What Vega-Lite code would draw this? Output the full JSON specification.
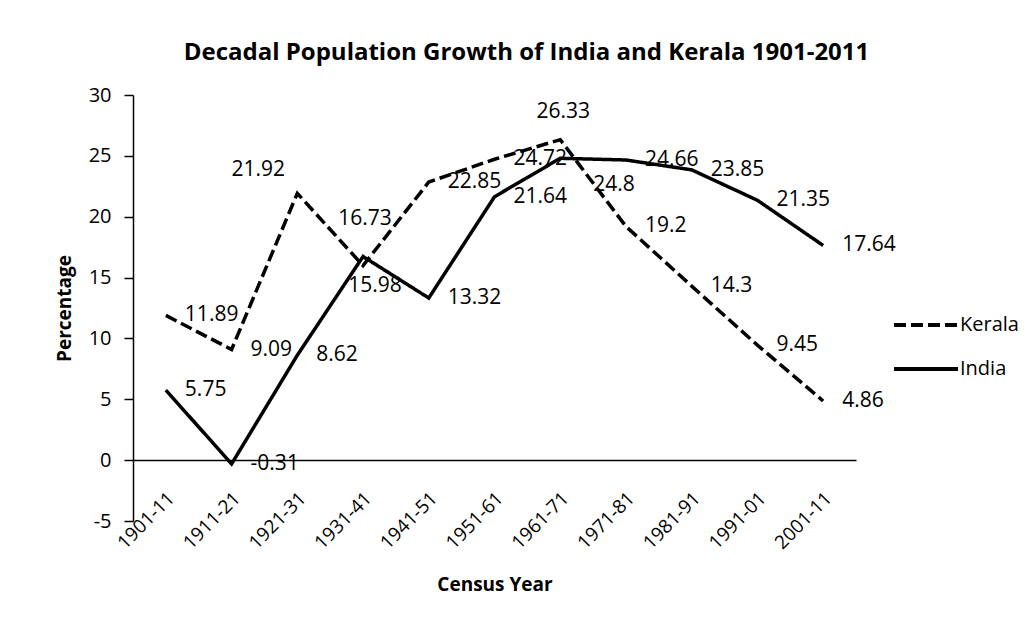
{
  "$schema": "https://vega.github.io/schema/vega-lite/v6.json",
  "width": 723,
  "height": 426,
  "autosize": "none",
  "padding": {"left": 133, "top": 95, "right": 178, "bottom": 100},
  "background": "white",
  "title": {
    "text": "Decadal Population Growth of India and Kerala 1901-2011",
    "font": "Open Sans",
    "fontSize": 24,
    "fontWeight": "bold",
    "color": "black",
    "anchor": "middle",
    "dx": 32,
    "offset": 20
  },
  "config": {
    "font": "Open Sans",
    "view": {"stroke": null}
  },
  "data": {
    "values": [
      {"period": "1901-11", "series": "Kerala", "value": 11.89},
      {"period": "1911-21", "series": "Kerala", "value": 9.09},
      {"period": "1921-31", "series": "Kerala", "value": 21.92},
      {"period": "1931-41", "series": "Kerala", "value": 15.98},
      {"period": "1941-51", "series": "Kerala", "value": 22.85},
      {"period": "1951-61", "series": "Kerala", "value": 24.72},
      {"period": "1961-71", "series": "Kerala", "value": 26.33},
      {"period": "1971-81", "series": "Kerala", "value": 19.2},
      {"period": "1981-91", "series": "Kerala", "value": 14.3},
      {"period": "1991-01", "series": "Kerala", "value": 9.45},
      {"period": "2001-11", "series": "Kerala", "value": 4.86},
      {"period": "1901-11", "series": "India", "value": 5.75},
      {"period": "1911-21", "series": "India", "value": -0.31},
      {"period": "1921-31", "series": "India", "value": 8.62},
      {"period": "1931-41", "series": "India", "value": 16.73},
      {"period": "1941-51", "series": "India", "value": 13.32},
      {"period": "1951-61", "series": "India", "value": 21.64},
      {"period": "1961-71", "series": "India", "value": 24.8},
      {"period": "1971-81", "series": "India", "value": 24.66},
      {"period": "1981-91", "series": "India", "value": 23.85},
      {"period": "1991-01", "series": "India", "value": 21.35},
      {"period": "2001-11", "series": "India", "value": 17.64}
    ]
  },
  "encoding": {
    "x": {
      "field": "period",
      "type": "ordinal",
      "scale": {"type": "point", "padding": 0.5},
      "axis": {
        "title": "Census Year",
        "labelAngle": -45,
        "labelAlign": "right",
        "labelBaseline": "middle",
        "labelFontSize": 19,
        "labelColor": "black",
        "labelPadding": -26,
        "labelOffset": 5,
        "ticks": false,
        "tickSize": 0,
        "domain": false,
        "titleFontSize": 19,
        "titleFontWeight": "bold",
        "titleColor": "black",
        "titlePadding": 23
      }
    },
    "y": {
      "field": "value",
      "type": "quantitative",
      "scale": {"domain": [-5, 30], "nice": false, "zero": false},
      "axis": {
        "title": "Percentage",
        "values": [-5, 0, 5, 10, 15, 20, 25, 30],
        "labelExpr": "'' + datum.value",
        "labelFontSize": 20,
        "labelColor": "black",
        "labelPadding": 13,
        "tickSize": 9,
        "tickColor": "black",
        "tickWidth": 1.5,
        "domainColor": "black",
        "domainWidth": 1.5,
        "grid": true,
        "gridColor": "black",
        "gridWidth": 1.5,
        "gridOpacity": {"condition": {"test": "datum.value === 0", "value": 1}, "value": 0},
        "titleFontSize": 19,
        "titleFontWeight": "bold",
        "titleColor": "black",
        "titlePadding": 14
      }
    }
  },
  "layer": [
    {
      "mark": {"type": "line", "color": "black", "strokeWidth": 3.5},
      "encoding": {
        "strokeDash": {
          "field": "series",
          "type": "nominal",
          "scale": {"domain": ["Kerala", "India"], "range": [[12, 5], [1, 0]]},
          "legend": {
            "orient": "none",
            "legendX": 759,
            "legendY": 196,
            "title": null,
            "symbolType": "stroke",
            "symbolSize": 4096,
            "symbolStrokeWidth": 4,
            "symbolStrokeColor": "black",
            "labelFontSize": 20,
            "labelColor": "black",
            "labelOffset": 0,
            "rowPadding": -25,
            "padding": 0
          }
        }
      }
    },
    {
      "transform": [{"filter": "!((datum.series == 'Kerala' && (datum.period == '1921-31' || datum.period == '1931-41' || datum.period == '1961-71')) || (datum.series == 'India' && (datum.period == '1931-41' || datum.period == '1961-71')))"}],
      "mark": {"type": "text", "align": "left", "baseline": "middle", "dx": 19, "fontSize": 21, "color": "black"},
      "encoding": {"text": {"field": "value", "type": "nominal"}}
    },
    {
      "transform": [{"filter": "datum.series == 'Kerala' && datum.period == '1921-31'"}],
      "mark": {"type": "text", "align": "center", "baseline": "middle", "dx": -39, "dy": -23, "fontSize": 21, "color": "black"},
      "encoding": {"text": {"field": "value", "type": "nominal"}}
    },
    {
      "transform": [{"filter": "datum.series == 'India' && datum.period == '1931-41'"}],
      "mark": {"type": "text", "align": "center", "baseline": "middle", "dx": 2, "dy": -38, "fontSize": 21, "color": "black"},
      "encoding": {"text": {"field": "value", "type": "nominal"}}
    },
    {
      "transform": [{"filter": "datum.series == 'Kerala' && datum.period == '1931-41'"}],
      "mark": {"type": "text", "align": "center", "baseline": "middle", "dx": 12, "dy": 20, "fontSize": 21, "color": "black"},
      "encoding": {"text": {"field": "value", "type": "nominal"}}
    },
    {
      "transform": [{"filter": "datum.series == 'Kerala' && datum.period == '1961-71'"}],
      "mark": {"type": "text", "align": "center", "baseline": "middle", "dx": 3, "dy": -28, "fontSize": 21, "color": "black"},
      "encoding": {"text": {"field": "value", "type": "nominal"}}
    },
    {
      "transform": [{"filter": "datum.series == 'India' && datum.period == '1961-71'"}],
      "mark": {"type": "text", "align": "left", "baseline": "middle", "dx": 33, "dy": 27, "fontSize": 21, "color": "black"},
      "encoding": {"text": {"field": "value", "type": "nominal"}}
    }
  ]
}
